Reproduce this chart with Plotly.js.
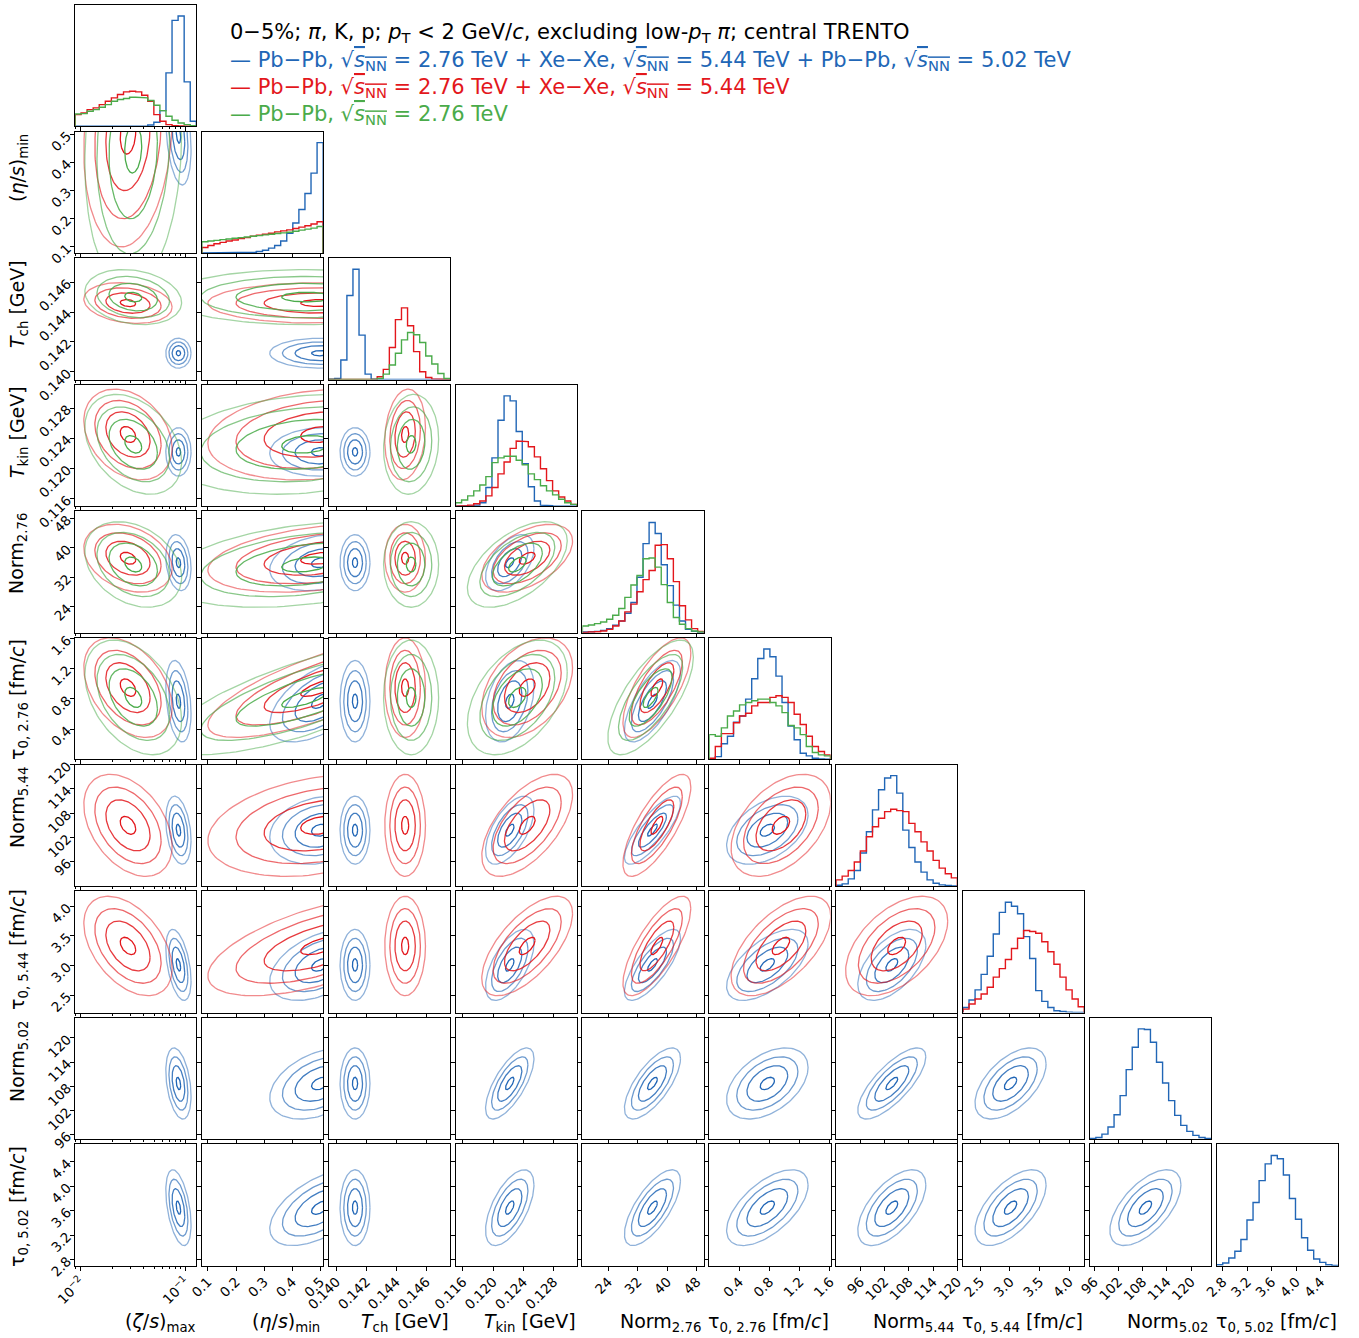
<!DOCTYPE html>
<html><head><meta charset="utf-8">
<script src="https://cdn.plot.ly/plotly-3.0.1.min.js"></script>
<style>body{margin:0;background:#fff}</style>
</head><body><div id="chart" style="width:1359px;height:1338px"></div>
<script>
// ---------------- data ----------------
const xTitles = ["(<i>ζ</i>/<i>s</i>)<sub>max</sub>","(<i>η</i>/<i>s</i>)<sub>min</sub>","<i>T</i><sub>ch</sub> [GeV]","<i>T</i><sub>kin</sub> [GeV]","Norm<sub>2.76</sub>","τ<sub>0, 2.76</sub> [fm/<i>c</i>]","Norm<sub>5.44</sub>","τ<sub>0, 5.44</sub> [fm/<i>c</i>]","Norm<sub>5.02</sub>","τ<sub>0, 5.02</sub> [fm/<i>c</i>]"];
// axis ranges (param 0 in log10 units)
const axisRanges = [[-2.054,-0.90],[0.0785,0.5097],[0.13949,0.1476],[0.11503,0.13107],[17.0,49.9],[0.0,1.608],[90.04,120.0],[2.206,4.255],[94.93,124.96],[2.70,4.685]];
const tickVals = [[0.01,0.1],[0.1,0.2,0.3,0.4,0.5],[0.140,0.142,0.144,0.146],[0.116,0.120,0.124,0.128],[24,32,40,48],[0.4,0.8,1.2,1.6],[96,102,108,114,120],[2.5,3.0,3.5,4.0],[96,102,108,114,120],[2.8,3.2,3.6,4.0,4.4]];
const tickText = [["10<sup>−2</sup>","10<sup>−1</sup>"],["0.1","0.2","0.3","0.4","0.5"],["0.140","0.142","0.144","0.146"],["0.116","0.120","0.124","0.128"],["24","32","40","48"],["0.4","0.8","1.2","1.6"],["96","102","108","114","120"],["2.5","3.0","3.5","4.0"],["96","102","108","114","120"],["2.8","3.2","3.6","4.0","4.4"]];
const zetaMinorTicks = [0.009,0.02,0.03,0.04,0.05,0.06,0.07,0.08,0.09];

// 1D histograms, 20 bins over each axis range
const histBlue = [
 [0,0,0,0,0,0,0,0,0,0,0,0,4,12,47,160,317,330,133,15],
 [0,0,0,0,0,0,0,1,2,4,8,14,22,35,58,88,128,175,235,325],
 [1,3,58,250,328,132,16,1,0,0,0,0,0,0,0,0,0,0,0,0],
 [0,0,1,3,10,55,142,253,325,310,220,125,57,15,3,1,0,0,0,0],
 [2,3,4,7,12,22,35,58,90,165,265,328,295,202,140,82,35,10,4,2],
 [2,8,46,68,110,128,178,238,298,326,303,246,168,98,58,18,10,3,1,0],
 [2,6,21,46,98,161,226,286,321,328,276,166,114,71,41,18,8,3,1,0],
 [15,37,67,113,167,233,297,327,315,293,225,160,65,33,15,5,3,1,0,0],
 [2,5,15,36,73,130,208,275,330,328,290,230,168,115,71,41,23,11,5,2],
 [3,8,23,43,78,136,188,253,303,328,318,270,200,138,83,46,20,10,3,1]
];
const histRed = [
 [35,40,50,55,65,75,85,95,103,105,103,93,75,35,15,5,2,1,0,0],
 [16,22,27,31,35,38,42,45,49,52,55,58,62,65,68,72,76,80,85,92],
 [0,0,0,0,0,0,0,1,8,30,95,178,213,160,83,23,6,2,0,0],
 [0,1,3,7,15,30,55,95,130,170,192,190,175,145,110,75,45,27,15,5],
 [1,2,3,5,10,20,35,62,85,122,158,185,260,262,220,152,80,38,12,4],
 [3,38,76,76,108,128,136,158,168,168,183,188,183,168,133,103,68,38,23,13],
 [18,29,46,71,104,146,176,201,221,228,224,221,186,161,131,104,76,53,36,24],
 [10,25,40,55,75,105,130,157,190,220,243,240,235,210,180,143,105,67,40,17]
];
const histGreen = [
 [37,38,45,50,57,65,75,80,83,87,87,85,77,63,47,30,18,10,5,2],
 [33,35,37,39,41,43,45,47,49,51,53,55,57,59,61,64,67,70,73,78],
 [0,0,0,0,0,0,0,1,3,16,43,78,118,140,133,110,70,46,18,3],
 [10,18,30,45,62,87,128,142,147,147,135,122,95,78,60,45,33,20,10,5],
 [20,23,27,32,40,52,72,105,142,170,220,222,195,143,90,45,25,12,5,2],
 [73,68,93,128,143,161,168,173,178,178,168,158,138,100,93,73,38,20,13,10]
];

// 2D summaries (param 0 in log10 units)
const meanBlue = [-1.07,0.50,0.14125,0.1222,36.0,0.77,103.8,3.01,108.7,3.65];
const sdBlue   = [0.06,0.09,0.00050,0.0016,3.8,0.27,4.2,0.30,4.4,0.31];
const meanRed  = [-1.55,0.50,0.14460,0.1245,37.2,0.95,105.0,3.33];
const sdRed    = [0.21,0.20,0.00068,0.0030,4.6,0.33,6.3,0.42];
const meanGreen= [-1.50,0.45,0.14500,0.1232,35.5,0.82];
const sdGreen  = [0.23,0.25,0.00092,0.0033,5.8,0.38];
const corrBlue = [
 [],
 [-0.3],
 [0.0,0.0],
 [0.0,0.05,0.0],
 [-0.2,0.25,0.0,0.5],
 [-0.3,0.55,0.0,0.35,0.7],
 [-0.3,0.2,0.0,0.6,0.8,0.45],
 [-0.45,0.45,0.0,0.6,0.75,0.6,0.55],
 [-0.35,0.4,0.0,0.7,0.7,0.45,0.75,0.55],
 [-0.45,0.55,0.0,0.6,0.7,0.6,0.6,0.6,0.6]
];
const corrRed = [
 [],
 [0.15],
 [-0.2,0.0],
 [-0.3,0.2,0.15],
 [-0.3,0.35,0.0,0.5],
 [-0.4,0.75,0.0,0.4,0.7],
 [-0.4,0.3,0.0,0.6,0.75,0.45],
 [-0.45,0.6,0.0,0.65,0.75,0.6,0.5]
];
const corrGreen = [
 [],
 [0.1],
 [-0.2,0.0],
 [-0.35,0.2,0.1],
 [-0.3,0.35,0.0,0.55],
 [-0.4,0.75,0.0,0.45,0.7]
];
const contourRadii = [0.35,1.0,1.5,2.0];

// ---------------- styling / layout ----------------
const W=1359,H=1338, N=10;
const colL=75, colPitch=126.85, rowT=5, rowPitch=126.6, pw=121.3;
const FONT='DejaVu Sans';
const series = [
 {name:'blue', rgb:[33,102,182], hist:histBlue, mean:meanBlue, sd:sdBlue, corr:corrBlue},
 {name:'red', rgb:[227,23,28], hist:histRed, mean:meanRed, sd:sdRed, corr:corrRed},
 {name:'green', rgb:[74,171,74], hist:histGreen, mean:meanGreen, sd:sdGreen, corr:corrGreen}
];
const levelAlpha = [1.0,0.85,0.65,0.5];
function rgba(c,a){return `rgba(${c[0]},${c[1]},${c[2]},${a})`;}

const layout = {width:W,height:H,margin:{l:0,r:0,t:0,b:0},paper_bgcolor:'#fff',plot_bgcolor:'#fff',showlegend:false,annotations:[]};
const traces=[];
let idx=0;
for(let i=0;i<N;i++){
  for(let j=0;j<=i;j++){
    idx++;
    const id=idx;
    const x0=colL+j*colPitch, y0=rowT+i*rowPitch;
    const base={showline:true,mirror:true,linecolor:'#000',linewidth:1,showgrid:false,zeroline:false,
      ticks:'outside',ticklen:4,tickwidth:1,tickcolor:'#000',tickfont:{family:FONT,size:13.5,color:'#000'}};
    const xa=Object.assign({},base,{domain:[x0/W,(x0+pw)/W],anchor:'y'+id,
      range:axisRanges[j].slice(),tickmode:'array',tickvals:tickVals[j],ticktext:tickText[j],
      showticklabels:(i===N-1),tickangle:-45,ticklabelstandoff:-2});
    if(j===0){xa.type='log';xa.minor={tickmode:'array',tickvals:zetaMinorTicks,ticks:'outside',ticklen:2,tickcolor:'#000',showgrid:false};}
    const ya=Object.assign({},base,{domain:[1-(y0+pw)/H,1-y0/H],anchor:'x'+id});
    if(i===j){
      ya.ticks=''; ya.showticklabels=false;
      let mx=0; series.forEach(s=>{if(s.hist[i]) mx=Math.max(mx,...s.hist[i]);});
      ya.range=[0,1.1*mx];
    } else {
      ya.range=axisRanges[i].slice(); ya.tickmode='array'; ya.tickvals=tickVals[i]; ya.ticktext=tickText[i];
      ya.showticklabels=(j===0); ya.tickangle=-45;
    }
    layout['xaxis'+(id===1?'':id)]=xa;
    layout['yaxis'+(id===1?'':id)]=ya;
    const xr='x'+(id===1?'':id), yr='y'+(id===1?'':id);
    if(i===j){
      series.forEach(s=>{
        const h=s.hist[i]; if(!h) return;
        const lo=axisRanges[i][0], hi=axisRanges[i][1], bw=(hi-lo)/h.length;
        const xs=[],ys=[];
        xs.push(lo); ys.push(0);
        for(let k=0;k<h.length;k++){xs.push(lo+k*bw,lo+(k+1)*bw); ys.push(h[k],h[k]);}
        xs.push(hi); ys.push(0);
        traces.push({type:'scatter',mode:'lines',x:(i===0?xs.map(v=>Math.pow(10,v)):xs),y:ys,xaxis:xr,yaxis:yr,
          line:{color:rgba(s.rgb,1),width:1.4},hoverinfo:'skip'});
      });
    } else {
      series.forEach(s=>{
        if(s.mean.length<=i) return;
        const mx=s.mean[j],my=s.mean[i],sx=s.sd[j],sy=s.sd[i],rho=s.corr[i][j];
        contourRadii.forEach((r,li)=>{
          const xs=[],ys=[];
          for(let k=0;k<=120;k++){const t=2*Math.PI*k/120,u=Math.cos(t),v=Math.sin(t);
            xs.push(mx+r*sx*u); ys.push(my+r*sy*(rho*u+Math.sqrt(1-rho*rho)*v));}
          traces.push({type:'scatter',mode:'lines',x:(j===0?xs.map(v=>Math.pow(10,v)):xs),y:ys,xaxis:xr,yaxis:yr,
            line:{color:rgba(s.rgb,levelAlpha[li]),width:1.3},hoverinfo:'skip'});
        });
      });
    }
  }
}

// axis titles
const xTitleCenters=[160,286,405,530,660,768,913,1022,1167,1276];
xTitles.forEach((t,k)=>layout.annotations.push({text:t,x:xTitleCenters[k]/W,y:1-1322/H,xref:'paper',yref:'paper',
  xanchor:'center',yanchor:'middle',showarrow:false,font:{family:FONT,size:19,color:'#000'}}));
const yTitleCenters=[null,168,304,432,554,700,808,950,1062,1207];
for(let k=1;k<N;k++) layout.annotations.push({text:xTitles[k],x:18/W,y:1-yTitleCenters[k]/H,xref:'paper',yref:'paper',
  xanchor:'center',yanchor:'middle',textangle:-90,showarrow:false,font:{family:FONT,size:19,color:'#000'}});

// header text
const sq='√<span style="text-decoration:overline"><i>s</i><sub>NN</sub></span>';
const header=[
 {t:'0−5%; <i>π</i>, K, p; <i>p</i><sub>T</sub> &lt; 2 GeV/<i>c</i>, excluding low-<i>p</i><sub>T</sub> <i>π</i>; central TRENTO', c:'#000', y:33},
 {t:'— Pb−Pb, '+sq+' = 2.76 TeV + Xe−Xe, '+sq+' = 5.44 TeV + Pb−Pb, '+sq+' = 5.02 TeV', c:rgba(series[0].rgb,1), y:61},
 {t:'— Pb−Pb, '+sq+' = 2.76 TeV + Xe−Xe, '+sq+' = 5.44 TeV', c:rgba(series[1].rgb,1), y:88},
 {t:'— Pb−Pb, '+sq+' = 2.76 TeV', c:rgba(series[2].rgb,1), y:115}
];
header.forEach(h=>layout.annotations.push({text:h.t,x:228/W,y:1-h.y/H,xref:'paper',yref:'paper',xanchor:'left',yanchor:'middle',
  showarrow:false,font:{family:FONT,size:21,color:h.c}}));

Plotly.newPlot('chart',traces,layout,{staticPlot:true,displayModeBar:false});
</script></body></html>
